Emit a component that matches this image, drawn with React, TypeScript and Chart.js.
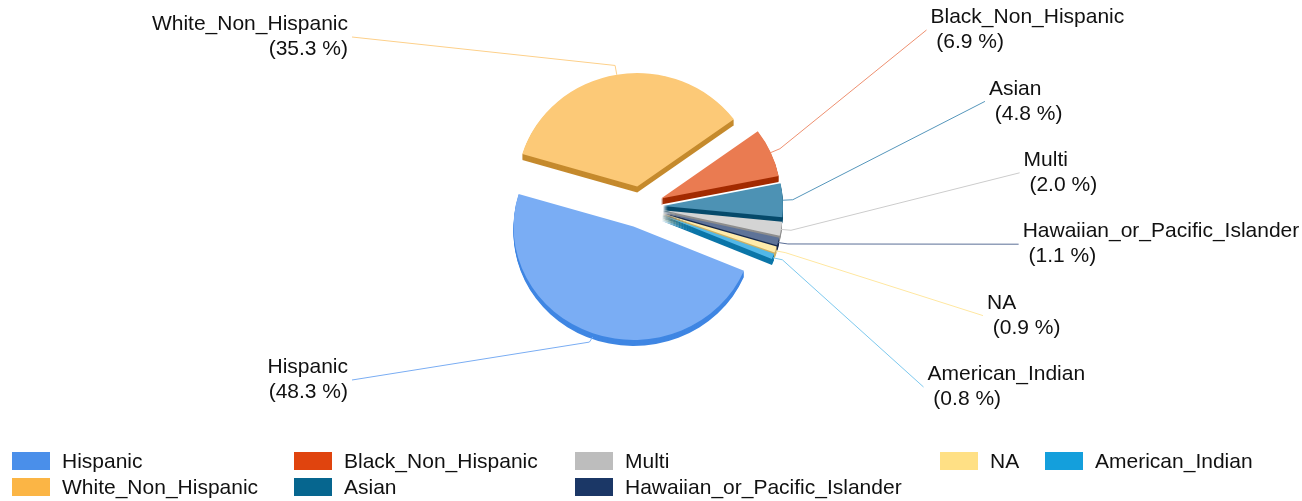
import React, { useEffect, useRef } from 'react';
import { Chart, registerables } from 'chart.js';

Chart.register(...registerables);

// ---------- data ----------
const categories = [
  'Hispanic',
  'White_Non_Hispanic',
  'Black_Non_Hispanic',
  'Asian',
  'Multi',
  'Hawaiian_or_Pacific_Islander',
  'NA',
  'American_Indian',
];
const shares = [48.3, 35.3, 6.9, 4.8, 2.0, 1.1, 0.9, 0.8];

// ---------- styles ----------
const legendColors = ['#4A8FEA', '#FBB545', '#E0440E', '#06668F', '#BDBDBD', '#1B3766', '#FFE085', '#149FDC'];
const topColors = ['#7AADF4', '#FCC977', '#EA7B51', '#4D92B4', '#D4D4D4', '#5E7398', '#FFEBAA', '#52B8E8'];
const sideColors = ['#3F86E3', '#C58A2D', '#A32B00', '#064A6B', '#8E8E8E', '#16294D', '#CDB064', '#0C76A8'];
const lineColors = ['#7AADF3', '#FDD08A', '#EE9070', '#5596BB', '#CCCCCC', '#5A6E96', '#FFE7A0', '#7CC8EE'];
const legendColumns = [[0, 1], [2, 3], [4, 5], [6], [7]];
const legendColumnX = [12, 294, 575, 940, 1045];

const FONT = '21px "Liberation Sans", Arial, sans-serif';
const PIE_RADIUS = 120;
const START_ANGLE = 113;
const EXPLODE = 22;
const SQUISH = 0.945;
const DEPTH = 6;
const ELBOW = 10;
const LABEL_A = 386.8;
const LABEL_B = -0.1596;
const LABEL_C = -0.0023313;
const LABEL_STEP = 71.4;
const LEFT_DY = 171.5;
const LEFT_X = 289;

function arcGeom(arc: any) {
  const p = arc.getProps(['x', 'y', 'startAngle', 'endAngle', 'outerRadius'], true);
  const mid = (p.startAngle + p.endAngle) / 2;
  return { ...p, mid, ox: Math.cos(mid) * EXPLODE, oy: Math.sin(mid) * EXPLODE };
}

const pie3d = {
  id: 'pie3d',
  beforeDatasetsDraw(chart: any) {
    const ctx: CanvasRenderingContext2D = chart.ctx;
    const arcs = chart.getDatasetMeta(0).data;
    const squish = (cx: number, cy: number) => {
      ctx.translate(cx, cy);
      ctx.scale(1, SQUISH);
      ctx.translate(-cx, -cy);
    };
    // side walls
    arcs.forEach((arc: any, i: number) => {
      const g = arcGeom(arc);
      for (let d = DEPTH; d >= 1; d--) {
        ctx.save();
        ctx.translate(0, d);
        squish(g.x, g.y);
        ctx.translate(g.ox, g.oy);
        ctx.beginPath();
        ctx.moveTo(g.x, g.y);
        ctx.arc(g.x, g.y, g.outerRadius, g.startAngle, g.endAngle);
        ctx.closePath();
        ctx.fillStyle = sideColors[i];
        ctx.fill();
        ctx.restore();
      }
    });
    // top faces, drawn by the arc elements themselves
    arcs.forEach((arc: any) => {
      const g = arcGeom(arc);
      ctx.save();
      squish(g.x, g.y);
      ctx.translate(g.ox, g.oy);
      arc.draw(ctx);
      ctx.restore();
    });
    return false;
  },
  afterDraw(chart: any) {
    const ctx: CanvasRenderingContext2D = chart.ctx;
    const arcs = chart.getDatasetMeta(0).data;
    const geoms = arcs.map((a: any) => arcGeom(a));
    const cx = geoms[0].x;
    const cy = geoms[0].y;
    const toScreen = (x: number, y: number) => [x, cy + (y - cy) * SQUISH];

    const right = geoms.map((g: any, i: number) => ({ g, i })).filter((o: any) => Math.cos(o.g.mid) >= 0)
      .sort((a: any, b: any) => Math.sin(a.g.mid) - Math.sin(b.g.mid));
    const left = geoms.map((g: any, i: number) => ({ g, i })).filter((o: any) => Math.cos(o.g.mid) < 0)
      .sort((a: any, b: any) => Math.sin(a.g.mid) - Math.sin(b.g.mid));

    const anchors: Record<number, { x: number; y: number; side: number }> = {};
    right.forEach((o: any, j: number) => {
      const dy = 1.5 + (j - (right.length - 1) / 2) * LABEL_STEP;
      const t = Math.abs(dy);
      const x = cx + LABEL_A + LABEL_B * t + LABEL_C * t * t;
      anchors[o.i] = { x, y: cy + dy, side: 1 };
    });
    left.forEach((o: any, j: number) => {
      const dy = left.length === 1 ? 0 : (j === 0 ? -LEFT_DY + 1.5 : LEFT_DY + 1.5);
      anchors[o.i] = { x: cx - LEFT_X, y: cy + dy, side: -1 };
    });

    ctx.save();
    ctx.font = FONT;
    ctx.textBaseline = 'middle';
    geoms.forEach((g: any, i: number) => {
      const r = g.outerRadius;
      const c = Math.cos(g.mid);
      const s = Math.sin(g.mid);
      const [sx, sy0] = toScreen(g.x + g.ox + r * c, g.y + g.oy + r * s);
      const sy = sy0 + (DEPTH - 2) * Math.max(0, s);
      const [ex, ey0] = toScreen(g.x + g.ox + (r + ELBOW) * c, g.y + g.oy + (r + ELBOW) * s);
      const ey = ey0 + (DEPTH - 2) * Math.max(0, s) - 4 * Math.max(0, s);
      const a = anchors[i];
      ctx.beginPath();
      ctx.moveTo(sx, sy);
      ctx.lineTo(ex, ey);
      ctx.lineTo(a.x, a.y);
      ctx.strokeStyle = lineColors[i];
      ctx.lineWidth = 1;
      ctx.stroke();

      const pct = '(' + shares[i].toFixed(1) + ' %)';
      ctx.fillStyle = '#111111';
      if (a.side > 0) {
        ctx.textAlign = 'left';
        ctx.fillText(categories[i], a.x + 4, a.y - 12.5);
        ctx.fillText(' ' + pct, a.x + 4, a.y + 12.5);
      } else {
        ctx.textAlign = 'right';
        ctx.fillText(categories[i], a.x - 4, a.y - 12.5);
        ctx.fillText(pct, a.x - 4, a.y + 12.5);
      }
    });

    // legend
    ctx.textAlign = 'left';
    legendColumns.forEach((col, ci) => {
      col.forEach((idx, ri) => {
        const x = legendColumnX[ci];
        const y = 452 + ri * 26;
        ctx.fillStyle = legendColors[idx];
        ctx.fillRect(x, y, 38, 18);
        ctx.fillStyle = '#111111';
        ctx.fillText(categories[idx], x + 50, y + 10);
      });
    });
    ctx.restore();
  },
};

export default function App() {
  const ref = useRef<HTMLCanvasElement>(null);
  useEffect(() => {
    const chart = new Chart(ref.current as HTMLCanvasElement, {
      type: 'pie',
      data: {
        labels: categories,
        datasets: [
          {
            data: shares,
            backgroundColor: topColors,
            borderWidth: 0,
            radius: PIE_RADIUS,
            clip: false,
          } as any,
        ],
      },
      options: {
        responsive: false,
        animation: false,
        events: [],
        rotation: START_ANGLE,
        layout: { padding: { left: 0, right: 20, top: 0, bottom: 87 } },
        plugins: { legend: { display: false }, tooltip: { enabled: false } },
      },
      plugins: [pie3d as any],
    });
    return () => chart.destroy();
  }, []);
  return (
    <div style={{ position: 'absolute', left: 0, top: 0, width: 1302, height: 501, background: '#ffffff' }}>
      <canvas ref={ref} width={1302} height={501} style={{ display: 'block' }} />
    </div>
  );
}
